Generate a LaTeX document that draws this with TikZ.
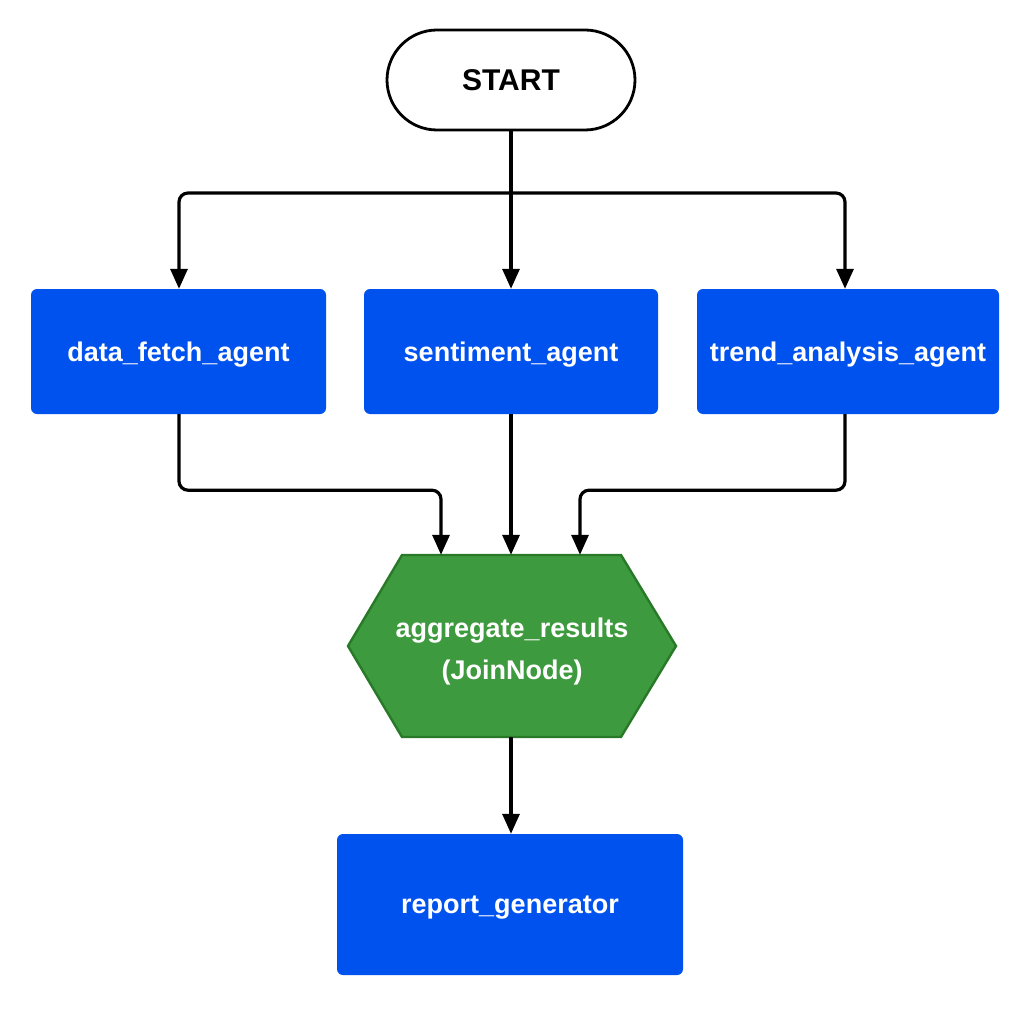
\documentclass[tikz,border=0pt]{standalone}
\usepackage{fontspec}
\setmainfont{Liberation Sans}
\usetikzlibrary{arrows.meta}
\definecolor{agentblue}{RGB}{0,82,239}
\definecolor{joinfill}{RGB}{62,154,62}
\definecolor{joinline}{RGB}{40,122,40}
\tikzset{
  agentbox/.style={draw=none, fill=agentblue, rounded corners=6pt, text=white,
    font=\fontsize{27}{32}\selectfont\bfseries, inner sep=0pt, text depth=0pt},
  startbox/.style={draw=black, line width=2.8pt, fill=white, rounded corners=50pt,
    minimum width=248pt, minimum height=100pt, inner sep=0pt,
    font=\fontsize{30}{36}\selectfont\bfseries},
  joinbox/.style={draw=none, minimum width=328pt, minimum height=182pt, inner sep=0pt},
  jointext/.style={inner sep=0pt, text=white, align=center,
    font=\fontsize{27}{42}\selectfont\bfseries},
  hexshape/.style={draw=joinline, line width=2.4pt, fill=joinfill, line join=miter},
  conn/.style={draw=black, line width=3.2pt, rounded corners=9pt,
    -{Triangle[length=20pt,width=17pt]}},
}
\begin{document}
\begin{tikzpicture}[x=1pt,y=-1pt]
\useasboundingbox[fill=white] (0,0) rectangle (1024,1024);
\node[startbox] (start) at (511,80) {START};
\node[agentbox, minimum width=295pt, minimum height=125pt] (data) at (178.5,351.5) {data\_fetch\_agent};
\node[agentbox, minimum width=294pt, minimum height=125pt] (sent) at (511,351.5) {sentiment\_agent};
\node[agentbox, minimum width=302pt, minimum height=125pt] (trend) at (848,351.5) {trend\_analysis\_agent};
\draw[hexshape] (348,646) -- (402,555) -- (621,555) -- (676,646) -- (621,737) -- (402,737) -- cycle;
\node[joinbox] (agg) at (512,646) {};
\node[jointext] (aggtext) at (512,652) {aggregate\_results\\(JoinNode)};
\node[agentbox, minimum width=346pt, minimum height=141pt] (report) at (510,904.5) {report\_generator};
\coordinate (fork) at (511,193);
\draw[conn] (start.south) -- (sent.north);
\draw[conn] (fork) -| ([xshift=0.5pt]data.north);
\draw[conn] (fork) -| ([xshift=-3pt]trend.north);
\draw[conn] ([xshift=0.5pt]data.south) -- ++(0,76) -| ([xshift=-71pt]agg.north);
\draw[conn] (sent.south) -- (sent.south |- agg.north);
\draw[conn] ([xshift=-3pt]trend.south) -- ++(0,76) -| ([xshift=68pt]agg.north);
\draw[conn] ([xshift=-1pt]agg.south) -- ([xshift=1pt]report.north);
\end{tikzpicture}
\end{document}
